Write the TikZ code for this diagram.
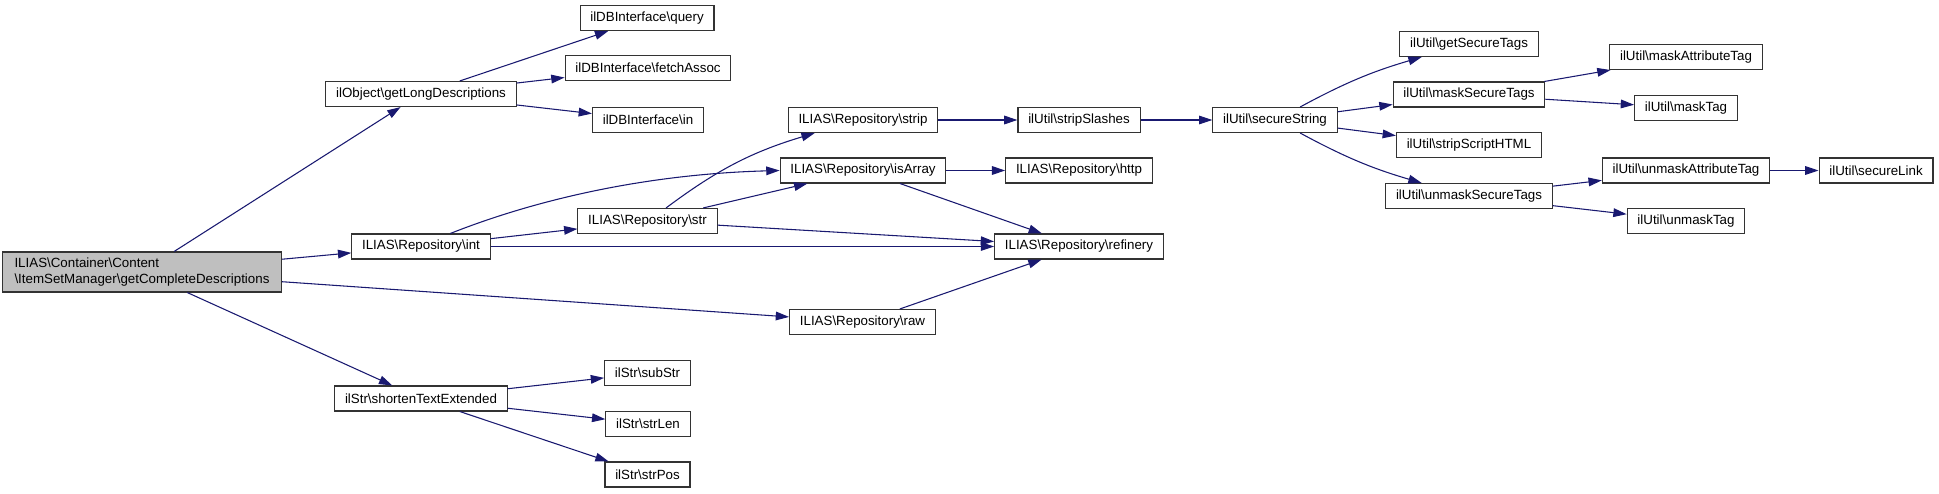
\documentclass[tikz,border=0pt]{standalone}
\usepackage{fontspec}
\setmainfont{Liberation Sans}
\usetikzlibrary{arrows.meta}
\definecolor{edgeblue}{HTML}{191970}
\newcommand{\bks}{\textbackslash}

\begin{document}
\begin{tikzpicture}[x=0.75pt,y=-0.75pt,
  fn/.style={draw=black!80,fill=white,line width=0.8pt,font=\fontsize{10}{12}\selectfont,
             minimum height=18.75pt,inner xsep=7.7pt,inner ysep=2pt},
  call/.style={draw=edgeblue,line width=0.8pt,-{Triangle[length=10pt,width=6.5pt]}}]
\useasboundingbox (0,0) rectangle (1939,493);

% the documented function
\node (main) [fn,fill=black!25,align=left,inner xsep=9pt,minimum height=30pt] at (142,272)
  {ILIAS\bks Container\bks Content\\\bks ItemSetManager\bks getCompleteDescriptions};

% first level
\node (getlong) [fn] at (421,94)    {ilObject\bks getLongDescriptions};
\node (int)     [fn] at (421,246.5) {ILIAS\bks Repository\bks int};
\node (shorten) [fn] at (421,398.5) {ilStr\bks shortenTextExtended};

% second level
\node (query)   [fn] at (647,18)    {ilDBInterface\bks query};
\node (fetch)   [fn] at (648,68)    {ilDBInterface\bks fetchAssoc};
\node (dbin)    [fn] at (648,120)   {ilDBInterface\bks in};
\node (str)     [fn] at (647.5,221) {ILIAS\bks Repository\bks str};
\node (substr)  [fn] at (647.5,373) {ilStr\bks subStr};
\node (strlen)  [fn] at (648,424)   {ilStr\bks strLen};
\node (strpos)  [fn] at (647.5,474.5) {ilStr\bks strPos};

% repository
\node (strip)   [fn] at (863,120)   {ILIAS\bks Repository\bks strip};
\node (isarray) [fn] at (863,170.5) {ILIAS\bks Repository\bks isArray};
\node (raw)     [fn] at (862.5,322) {ILIAS\bks Repository\bks raw};
\node (slashes) [fn] at (1079,120)  {ilUtil\bks stripSlashes};
\node (http)    [fn] at (1079,170.5) {ILIAS\bks Repository\bks http};
\node (refin)   [fn] at (1079,246.5) {ILIAS\bks Repository\bks refinery};

% ilUtil
\node (secure)  [fn] at (1275,120)  {ilUtil\bks secureString};
\node (gettags) [fn] at (1469,44)   {ilUtil\bks getSecureTags};
\node (masktags) [fn] at (1469,94.5) {ilUtil\bks maskSecureTags};
\node (script)  [fn] at (1469,145)  {ilUtil\bks stripScriptHTML};
\node (unmasktags) [fn] at (1469,196) {ilUtil\bks unmaskSecureTags};
\node (maskattr) [fn] at (1686,57)  {ilUtil\bks maskAttributeTag};
\node (masktag) [fn] at (1686,108)  {ilUtil\bks maskTag};
\node (unmaskattr) [fn] at (1686,170.5) {ilUtil\bks unmaskAttributeTag};
\node (unmasktag) [fn] at (1686,221) {ilUtil\bks unmaskTag};
\node (link)    [fn] at (1876,170.5) {ilUtil\bks secureLink};

% calls
\draw[call] (main) -- (getlong);
\draw[call] (main) -- (int);
\draw[call] (main) -- (raw);
\draw[call] (main) -- (shorten);
\draw[call] (getlong) -- (query);
\draw[call] (getlong) -- (fetch);
\draw[call] (getlong) -- (dbin);
\draw[call] ([xshift=22pt]int.north) .. controls (540,198) and (650,174) .. (isarray.west);
\draw[call] (int) -- (str);
\draw[call] (int) -- (refin);
\draw[call] (str) to[bend left=10] (strip);
\draw[call] (str) -- (isarray);
\draw[call] (str) -- (refin);
\draw[call] (isarray) -- (refin);
\draw[call] (isarray) -- (http);
\draw[call] (raw) -- (refin);
\draw[call] (strip) -- (slashes);
\draw[call] (slashes) -- (secure);
\draw[call] (secure) to[bend left=6] (gettags);
\draw[call] (secure) -- (masktags);
\draw[call] (secure) -- (script);
\draw[call] (secure) to[bend right=6] (unmasktags);
\draw[call] (masktags) -- (maskattr);
\draw[call] (masktags) -- (masktag);
\draw[call] (unmasktags) -- (unmaskattr);
\draw[call] (unmasktags) -- (unmasktag);
\draw[call] (unmaskattr) -- (link);
\draw[call] (shorten) -- (substr);
\draw[call] (shorten) -- (strlen);
\draw[call] (shorten) -- (strpos);
\end{tikzpicture}
\end{document}
